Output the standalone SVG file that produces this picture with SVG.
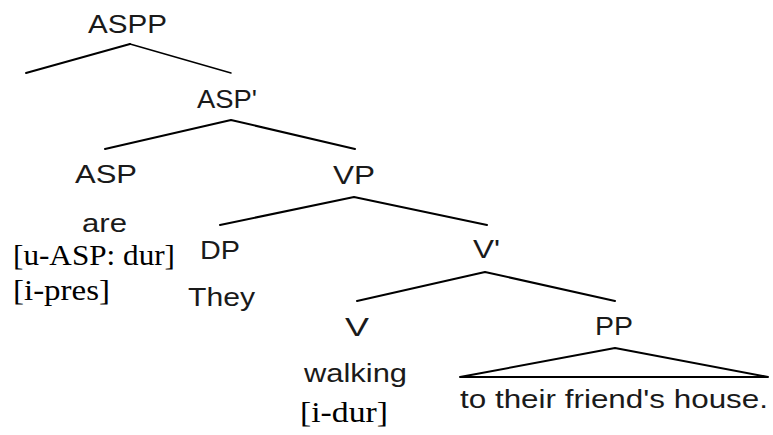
<svg xmlns="http://www.w3.org/2000/svg" width="773" height="435" viewBox="0 0 773 435">
  <style>
    .lbl { font-family: "Liberation Sans", Arial, sans-serif; font-size: 25px; fill: #1a1a1a; }
    .feat { font-family: "Liberation Serif", "Times New Roman", serif; font-size: 29px; fill: #000; }
    .edge { stroke: #000; stroke-width: 2; fill: none; stroke-linecap: round; stroke-linejoin: round; }
    .thin { stroke-width: 1.4; }
  </style>
  <rect width="773" height="435" fill="#fff"/>

  <!-- branches of the tree -->
  <g id="connectors">
    <polyline class="edge" points="26,73 130,44"/>
    <polyline class="edge thin" points="130,44 231,73"/>
    <polyline class="edge" points="105,149 231,120 355,149"/>
    <polyline class="edge" points="220,225 354,197 487,225"/>
    <polyline class="edge" points="357,301 485,272 615,301"/>
    <polygon class="edge" points="460,377 615,348 768,377"/>
  </g>

  <g id="aspp"><text class="lbl" x="88" y="33" textLength="79" lengthAdjust="spacingAndGlyphs">ASPP</text></g>
  <g id="asp-bar"><text class="lbl" x="197" y="108" textLength="60" lengthAdjust="spacingAndGlyphs">ASP'</text></g>
  <g id="asp">
    <text class="lbl" x="75" y="183" textLength="62" lengthAdjust="spacingAndGlyphs">ASP</text>
    <text class="lbl" x="82" y="232" textLength="45" lengthAdjust="spacingAndGlyphs">are</text>
    <text class="feat" x="13" y="265" textLength="162" lengthAdjust="spacingAndGlyphs">[u-ASP: dur]</text>
    <text class="feat" x="13" y="300" textLength="97" lengthAdjust="spacingAndGlyphs">[i-pres]</text>
  </g>
  <g id="vp"><text class="lbl" x="333" y="184" textLength="42" lengthAdjust="spacingAndGlyphs">VP</text></g>
  <g id="dp">
    <text class="lbl" x="200" y="259" textLength="40" lengthAdjust="spacingAndGlyphs">DP</text>
    <text class="lbl" x="188" y="306" textLength="67" lengthAdjust="spacingAndGlyphs">They</text>
  </g>
  <g id="v-bar"><text class="lbl" x="473" y="258" textLength="27" lengthAdjust="spacingAndGlyphs">V'</text></g>
  <g id="v">
    <text class="lbl" x="345" y="336" textLength="24" lengthAdjust="spacingAndGlyphs">V</text>
    <text class="lbl" x="304" y="382" textLength="103" lengthAdjust="spacingAndGlyphs">walking</text>
    <text class="feat" x="300" y="422" textLength="88" lengthAdjust="spacingAndGlyphs">[i-dur]</text>
  </g>
  <g id="pp">
    <text class="lbl" x="595" y="335" textLength="38" lengthAdjust="spacingAndGlyphs">PP</text>
    <text class="lbl" x="460" y="408" textLength="308" lengthAdjust="spacingAndGlyphs">to their friend's house.</text>
  </g>
</svg>
